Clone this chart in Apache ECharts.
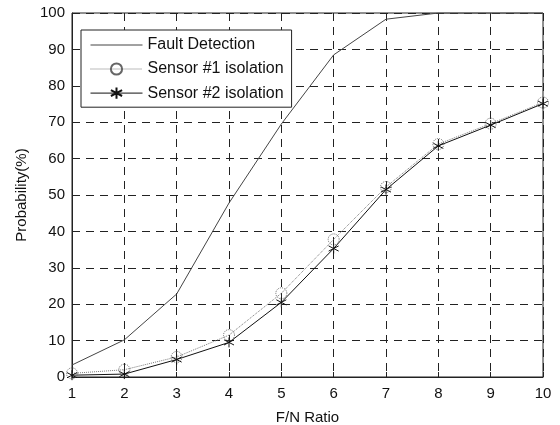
<!DOCTYPE html>
<html><head><meta charset="utf-8">
<script src="https://cdn.jsdelivr.net/npm/echarts@6/dist/echarts.min.js"></script>
<style>html,body{margin:0;padding:0;background:#fff}#c{width:560px;height:425px}</style>
</head><body><div id="c"></div>
<script>
const categories = [1,2,3,4,5,6,7,8,9,10];
const faultDetection = [3.3,10.2,22.8,47.8,69.5,88.5,98.3,100,100,100];
const sensor1 = [1.0,2.0,5.5,11.5,23.0,37.8,52.2,64.0,69.6,75.4];
const sensor2 = [0.5,0.8,4.8,9.5,20.5,35.3,51.5,63.5,69.2,75.1];
const seriesNames = ['Fault Detection','Sensor #1 isolation','Sensor #2 isolation'];
const yTicks = [0,10,20,30,40,50,60,70,80,90,100];

const font = 'Liberation Sans, Arial, sans-serif';
const chart = echarts.init(document.getElementById('c'));
const star = 'path://M0,-5L0,5M-4.5,-2.6L4.5,2.6M-4.5,2.6L4.5,-2.6';
chart.setOption({
  animation:false,
  grid:{left:72,right:17,top:13,bottom:48,show:true,borderColor:'#222',borderWidth:1,
    containLabel:false,outerBoundsMode:'none'},
  xAxis:{type:'value',min:1,max:10,interval:1,
    name:'F/N Ratio',nameLocation:'middle',nameGap:33,
    nameTextStyle:{fontFamily:font,fontSize:15,color:'#111'},
    axisLine:{show:true,lineStyle:{color:'#222'}},
    axisTick:{show:true,inside:true,length:5,lineStyle:{color:'#222'}},
    axisLabel:{fontFamily:font,fontSize:15,color:'#111',margin:9},
    splitLine:{show:true,lineStyle:{color:'#222',type:[8,6],width:1}}},
  yAxis:{type:'value',min:0,max:100,interval:10,
    name:'Probability(%)',nameLocation:'middle',nameGap:42,
    nameTextStyle:{fontFamily:font,fontSize:15,color:'#111'},
    axisLine:{show:true,lineStyle:{color:'#222'}},
    axisTick:{show:true,inside:true,length:5,lineStyle:{color:'#222'}},
    axisLabel:{fontFamily:font,fontSize:15,color:'#111',margin:7,
      formatter:v=>yTicks.includes(v)?String(v):''},
    splitLine:{show:true,lineStyle:{color:'#222',type:[8,6],width:1}}},
  legend:{left:81,top:30,orient:'vertical',backgroundColor:'#fff',
    borderColor:'#222',borderWidth:1,padding:[7,8,6,9],itemGap:8,
    itemWidth:52,itemHeight:14,
    lineStyle:{width:1},
    textStyle:{fontFamily:font,fontSize:16,color:'#111'},
    data:[
      {name:seriesNames[0],itemStyle:{color:'rgba(0,0,0,0)',borderWidth:0,opacity:0}},
      {name:seriesNames[1]},
      {name:seriesNames[2]}
    ]},
  series:[
    {name:seriesNames[0],type:'line',data:categories.map((x,i)=>[x,faultDetection[i]]),
      symbol:'none',lineStyle:{color:'#444',width:1},itemStyle:{color:'#444'}},
    {name:seriesNames[1],type:'line',data:categories.map((x,i)=>[x,sensor1[i]]),
      symbol:'circle',symbolSize:11,
      lineStyle:{color:'#777',width:1,type:'dotted'},
      itemStyle:{color:'rgba(0,0,0,0)',borderColor:'#666',borderWidth:1,borderType:'dotted'}},
    {name:seriesNames[2],type:'line',data:categories.map((x,i)=>[x,sensor2[i]]),
      symbol:star,symbolSize:10,
      lineStyle:{color:'#111',width:1},
      itemStyle:{color:'none',borderColor:'#111',borderWidth:1}}
  ]
});
</script></body></html>
